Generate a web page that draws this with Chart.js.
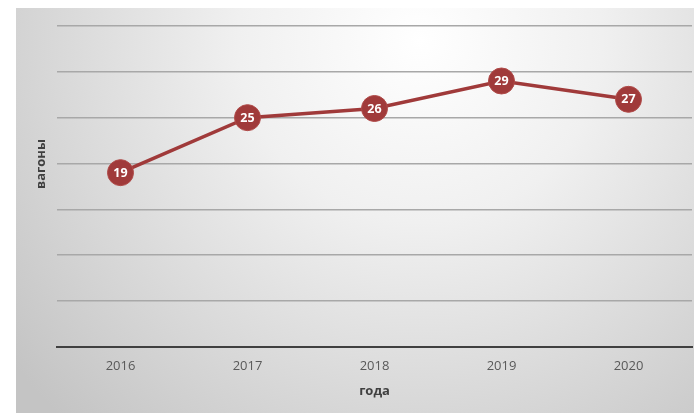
<!DOCTYPE html>
<html>
<head>
<meta charset="utf-8">
<script src="https://cdn.jsdelivr.net/npm/chart.js@4"></script>
<style>
  html, body { margin: 0; padding: 0; background: #fff; }
  #wrap { width: 694px; height: 413px; position: relative; }
</style>
</head>
<body>
<div id="wrap"><canvas id="chart"></canvas></div>
<script>
// годы и число вагонов
var years = ['2016', '2017', '2018', '2019', '2020'];
var wagons = [19, 25, 26, 29, 27];
var yAxisTitle = 'вагоны';
var xAxisTitle = 'года';

var FONT = '"Open Sans", "DejaVu Sans", sans-serif';
var LINE_COLOR = '#a03a3a';

// gray radial background behind the chart
var backgroundPlugin = {
    id: 'bgFill',
    beforeDraw: function(chart) {
        var ctx = chart.ctx;
        var grad = ctx.createRadialGradient(420, 40, 0, 420, 40, 520);
        grad.addColorStop(0, '#ffffff');
        grad.addColorStop(0.35, '#f0f0f0');
        grad.addColorStop(1, '#c4c4c4');
        ctx.save();
        ctx.fillStyle = grad;
        ctx.fillRect(16, 8, chart.width - 16, chart.height - 8);
        ctx.restore();
    }
};

// value labels inside the markers + rotated y title
var labelPlugin = {
    id: 'pointLabels',
    afterDatasetsDraw: function(chart) {
        var ctx = chart.ctx;
        var meta = chart.getDatasetMeta(0);
        var values = chart.data.datasets[0].data;
        ctx.save();
        ctx.fillStyle = '#ffffff';
        ctx.font = 'bold 12.5px ' + FONT;
        ctx.textAlign = 'center';
        ctx.textBaseline = 'middle';
        meta.data.forEach(function(pt, i) {
            ctx.fillText(String(values[i]), pt.x, pt.y + 0.5);
        });
        ctx.restore();
    },
    afterDraw: function(chart) {
        var ctx = chart.ctx;
        ctx.save();
        ctx.translate(41, 164);
        ctx.rotate(-Math.PI / 2);
        ctx.fillStyle = '#404040';
        ctx.font = 'bold 13px ' + FONT;
        ctx.textAlign = 'center';
        ctx.textBaseline = 'middle';
        ctx.fillText(yAxisTitle, 0, 0);
        ctx.restore();
    }
};

new Chart(document.getElementById('chart'), {
    type: 'line',
    data: {
        labels: years,
        datasets: [{
            data: wagons,
            borderColor: LINE_COLOR,
            borderWidth: 3.5,
            backgroundColor: LINE_COLOR,
            pointRadius: 13,
            pointHoverRadius: 13,
            pointBackgroundColor: LINE_COLOR,
            pointBorderColor: '#b04a48',
            pointBorderWidth: 1,
            tension: 0,
            clip: false
        }]
    },
    options: {
        responsive: true,
        maintainAspectRatio: false,
        animation: false,
        events: [],
        layout: {
            autoPadding: false,
            padding: { left: 57, right: 2, top: 26, bottom: 10 }
        },
        plugins: {
            legend: { display: false },
            tooltip: { enabled: false }
        },
        scales: {
            x: {
                offset: true,
                grid: { display: false, drawTicks: false },
                border: { display: true, color: '#404040', width: 2 },
                ticks: {
                    color: '#595959',
                    padding: 12,
                    font: { family: FONT, size: 13 }
                },
                title: {
                    display: true,
                    text: xAxisTitle,
                    color: '#404040',
                    padding: { top: -3, bottom: 4 },
                    font: { family: FONT, size: 13, weight: 'bold' }
                }
            },
            y: {
                min: 0,
                max: 35,
                grid: { color: '#a8a8a8', lineWidth: 1.5, drawTicks: false },
                border: { display: false },
                ticks: { display: false, stepSize: 5 }
            }
        }
    },
    plugins: [backgroundPlugin, labelPlugin]
});
</script>
</body>
</html>
